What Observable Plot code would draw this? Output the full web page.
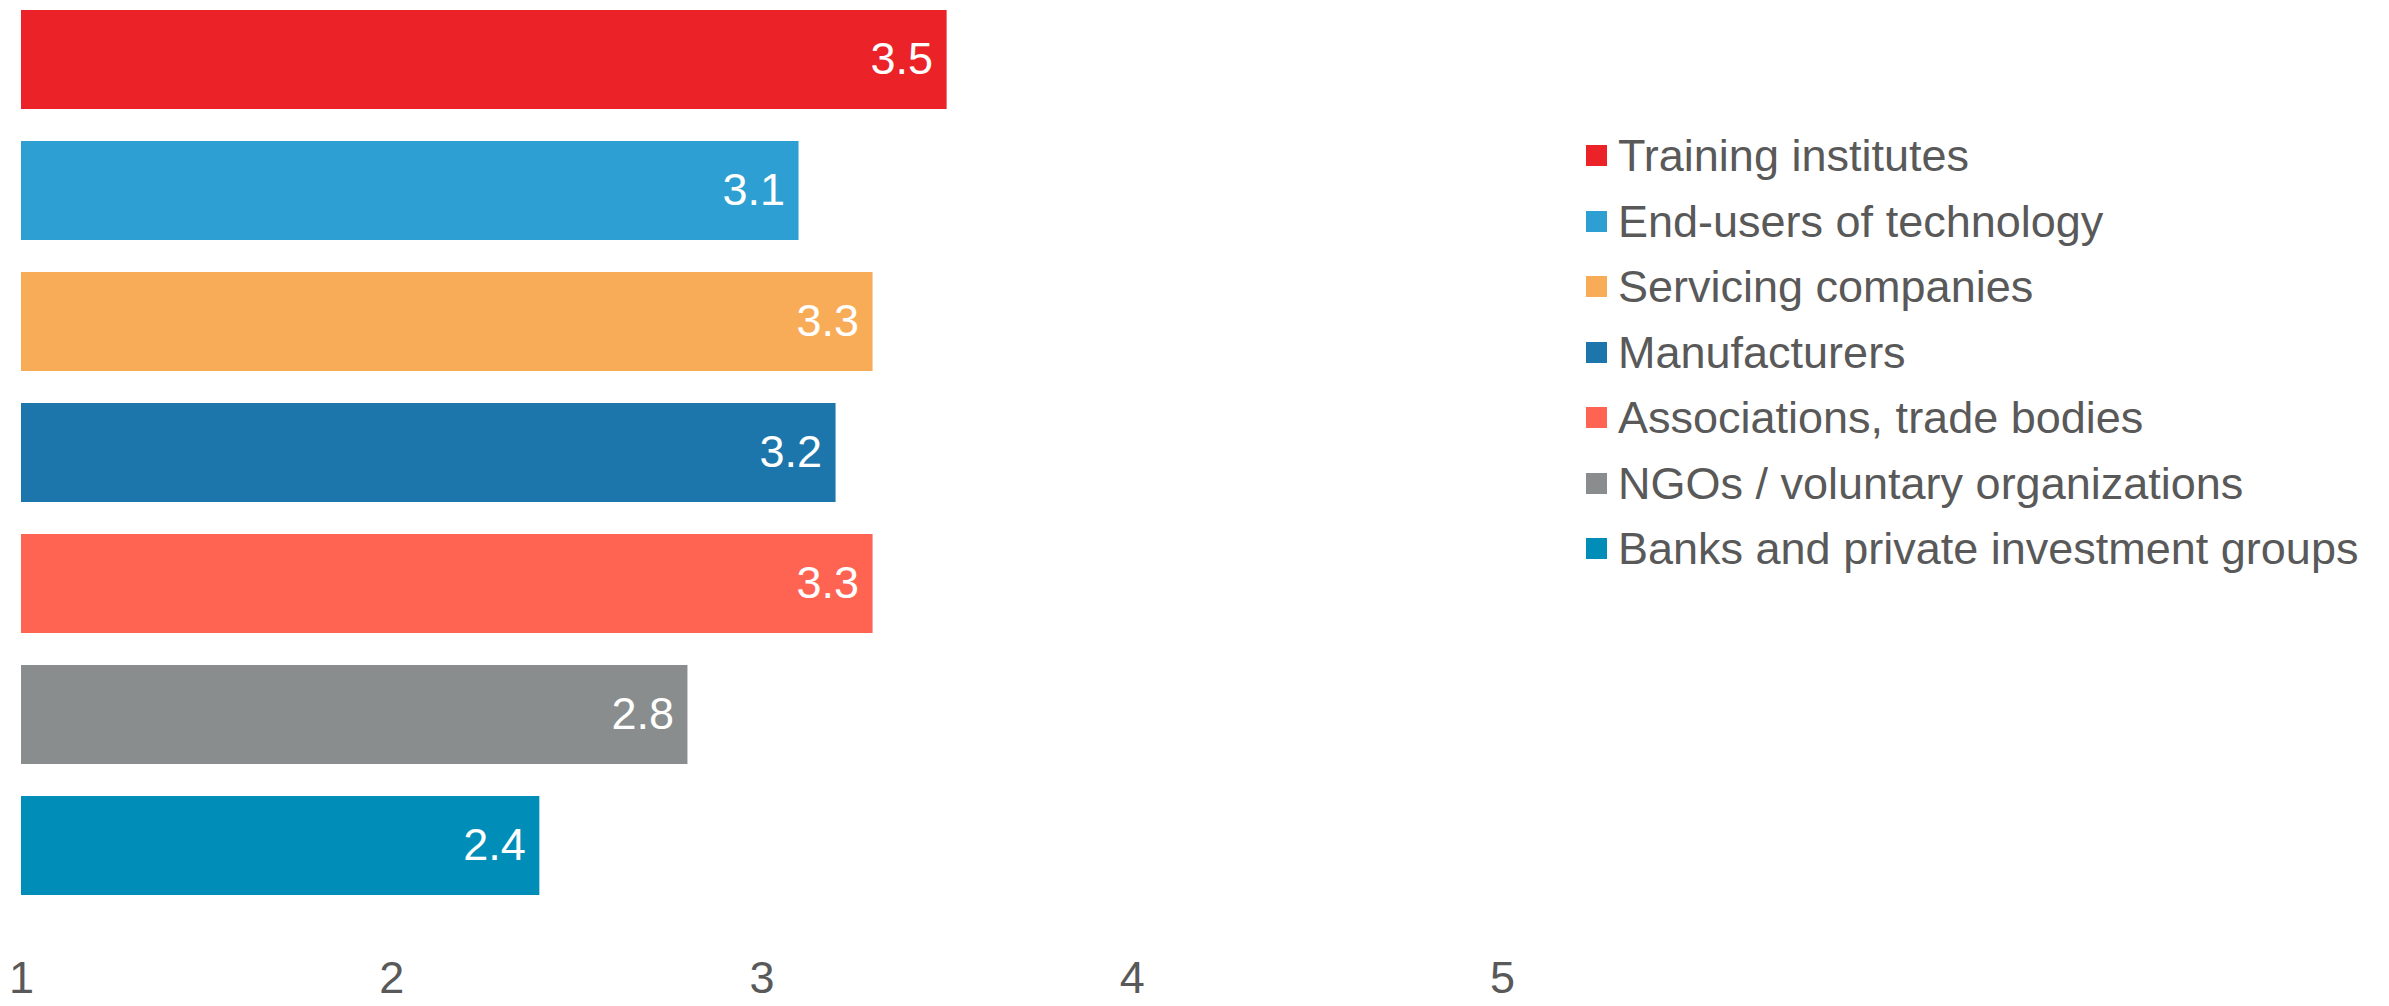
<!DOCTYPE html>
<html>
<head>
<meta charset="utf-8">
<script src="https://cdn.jsdelivr.net/npm/d3@7"></script>
<script src="https://cdn.jsdelivr.net/npm/@observablehq/plot@0.6"></script>
<style>
  html, body { margin: 0; padding: 0; background: #fff; overflow: hidden; }
  #wrap { position: relative; width: 2389px; height: 1006px; font-family: "Liberation Sans", Arial, sans-serif; }
  #wrap svg { display: block; }
  #legend { position: absolute; left: 1586px; top: 122.75px; color: #595959; font-size: 45px; }
  #legend .row { display: flex; align-items: center; height: 65.5px; white-space: nowrap; }
  #legend .sw { width: 21px; height: 21px; margin-right: 11px; flex: none; }
  #legend .lab { line-height: 1; }
</style>
</head>
<body>
<div id="wrap"><div id="legend"></div></div>
<script>
const categories = [
  "Training institutes",
  "End-users of technology",
  "Servicing companies",
  "Manufacturers",
  "Associations, trade bodies",
  "NGOs / voluntary organizations",
  "Banks and private investment groups"
];
const values = [3.5, 3.1, 3.3, 3.2, 3.3, 2.8, 2.4];
const colors = ["#EB2227", "#2E9FD2", "#F9AC57", "#1C76AB", "#FF6352", "#8A8D8D", "#008EB8"];
const xTicks = [1, 2, 3, 4, 5];

const data = categories.map((c, i) => ({category: c, value: values[i], color: colors[i]}));

const chart = Plot.plot({
  width: 2389,
  height: 1006,
  marginLeft: 21,
  marginRight: 887,
  marginTop: 10,
  marginBottom: 110,
  style: {fontFamily: '"Liberation Sans", Arial, sans-serif', background: "#fff"},
  x: {domain: [1, 5]},
  y: {domain: categories, paddingInner: 0.244, paddingOuter: 0, axis: null},
  color: {domain: categories, range: colors},
  marks: [
    Plot.barX(data, {x1: 1, x2: "value", y: "category", fill: "category"}),
    Plot.text(data, {
      x: "value", y: "category", text: d => d.value.toFixed(1),
      textAnchor: "end", dx: -14, fill: "#ffffff", fontSize: 45
    }),
    Plot.axisX({
      ticks: xTicks, tickSize: 0, tickPadding: 65, fontSize: 45,
      tickFormat: d => String(d), color: "#595959", label: null
    })
  ]
});
document.getElementById("wrap").prepend(chart);

const legend = d3.select("#legend");
categories.forEach((c, i) => {
  const row = legend.append("div").attr("class", "row");
  row.append("div").attr("class", "sw").style("background", colors[i]);
  row.append("span").attr("class", "lab").text(c);
});
</script>
</body>
</html>
